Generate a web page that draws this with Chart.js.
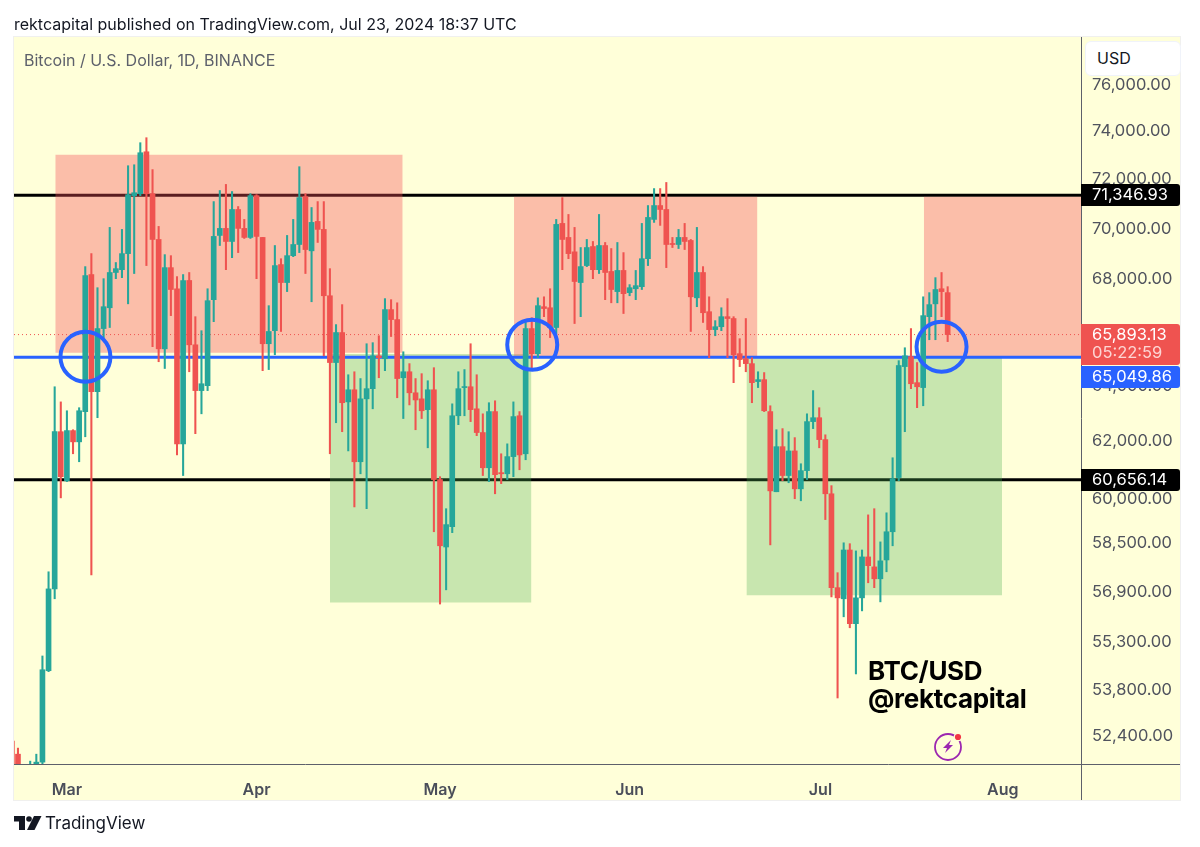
<!DOCTYPE html>
<html>
<head>
<meta charset="utf-8">
<title>BTC/USD</title>
<script src="https://cdn.jsdelivr.net/npm/chart.js@4/dist/chart.umd.js"></script>
<style>
    html, body { margin: 0; padding: 0; background: #fff; font-family: Inter, sans-serif; }
    #wrap { position: relative; width: 1200px; height: 847px; overflow: hidden; }
    canvas { position: absolute; left: 0; top: 0; }
    .txt { position: absolute; white-space: nowrap; }
    #header { left: 14px; top: 14px; font-size: 16px; color: #131722; }
    #symbol { left: 24px; top: 50px; font-size: 16px; color: #5d606b; }
    #sign { left: 868px; top: 657px; font-size: 26px; line-height: 28px; font-weight: 700; color: #000; letter-spacing: -0.3px; }
    #brand { left: 45px; top: 813px; font-size: 17px; color: #131722; }
    #usd { left: 1085px; top: 41px; width: 96px; height: 35px; box-sizing: border-box; padding: 6px 0 0 11px;
        background: #fff; border: 1px solid #f0f3fa; border-radius: 6px; font-size: 16px; color: #131722; }
    svg { position: absolute; }
</style>
</head>
<body>
<div id="wrap">
    <canvas id="chart" width="1200" height="847"></canvas>
    <div class="txt" id="header">rektcapital published on TradingView.com, Jul 23, 2024 18:37 UTC</div>
    <div class="txt" id="symbol">Bitcoin / U.S. Dollar, 1D, BINANCE</div>
    <div class="txt" id="sign">BTC/USD<br>@rektcapital</div>
    <div class="txt" id="brand">TradingView</div>
    <div class="txt" id="usd">USD</div>
    <svg style="left:14px;top:815px" width="28" height="16" viewBox="0 0 28 16">
        <path d="M0 1h11v14H5V6.5H0z" fill="#131722"/>
        <circle cx="15" cy="4" r="2.8" fill="#131722"/>
        <path d="M20 1h7.5L20.5 15H13z" fill="#131722"/>
    </svg>
    <svg style="left:933px;top:731px" width="30" height="30" viewBox="0 0 30 30">
        <circle cx="15" cy="16" r="13" fill="none" stroke="#9c27b0" stroke-width="1.8"/>
        <path d="M18 9l-8 8h4l-2 5 8-8h-4z" fill="#9c27b0"/>
        <circle cx="25" cy="6" r="4.4" fill="#fffed9"/>
        <circle cx="25" cy="6" r="3.1" fill="#f23645"/>
    </svg>
</div>
<script>
// daily candles, first one is Feb 21 2024 (day -7, day 0 is Feb 28)
const FIRST_DAY = -7;

const opens = [
    52250, 51860, 51300, 50750, 51520, 51625, 54390, 56990, 62340,
    60620, 62380, 61980, 63060, 68190, 63780, 66120, 66910, 68270, 68380, 69010, 71330, 71410, 73140, 71410, 69570, 65360, 68460, 67640, 61910, 67960, 65510, 63820, 64000, 67220, 69730, 70010, 69490, 70770, 70010, 69650,
    71330, 69650, 65550, 66040, 68580, 67880, 68930, 69370, 71290, 69120, 70290, 69970, 67370, 64850, 65970, 63410, 63850, 61280, 63520, 63890, 65100, 64990, 66840, 66460, 64290, 64510, 63740, 63520, 63130, 63850,
    60660, 58370, 59050, 62910, 63930, 63960, 63160, 62310, 61070, 63060, 60900, 60860, 61460, 62910, 61560, 66120, 65180, 66950, 66910, 66160, 70210, 69650, 69080, 67880, 68540, 69290, 68380, 69330, 68310, 67530, 68350,
    67490, 67640, 67720, 68810, 70370, 70930, 70770, 69410, 69370, 69650, 69530, 67290, 68270, 66760, 66080, 66190, 66570, 66500, 65180, 64990, 64810, 64150, 64220, 63060, 60240, 61810, 60800, 61660, 60340, 60970,
    62700, 62840, 62060, 60170, 57030, 56670, 58270, 55870, 56700, 58040, 57710, 57320, 57940, 58880, 60730, 64700, 65070, 64110, 63930, 66570, 67060, 67640, 67490
];
const highs = [
    52400, 52040, 51500, 51655, 51860, 54850, 57550, 63960, 63410,
    63090, 62410, 63200, 68500, 69010, 67680, 68030, 70050, 68660, 69970, 72560, 72600, 73520, 73730, 72400, 70090, 68970, 68930, 68110, 68190, 68270, 66570, 66040, 67640, 71090, 71540, 71790, 71500, 70890, 70370, 71410,
    71370, 69650, 66990, 69330, 68810, 69730, 70370, 72520, 71410, 70850, 71090, 71090, 68420, 66270, 67030, 64400, 64510, 64260, 65550, 65590, 65850, 67260, 67220, 67100, 65250, 64810, 64260, 64440, 64180, 64660,
    60760, 59660, 63340, 64510, 64590, 65550, 64400, 62980, 63380, 63450, 61560, 61910, 63410, 63060, 66350, 66530, 67290, 67330, 67640, 70370, 71250, 70570, 70050, 69250, 69570, 69490, 70570, 69450, 69210, 69450, 69050,
    67800, 68350, 70210, 70930, 71620, 71620, 71870, 69650, 69970, 70210, 69570, 70050, 68500, 67330, 66420, 66910, 67260, 66570, 65740, 66500, 65030, 64510, 64480, 63270, 62410, 62450, 62340, 62130, 61210, 62980,
    63820, 63200, 62230, 60450, 57520, 58510, 58480, 58240, 58270, 59450, 59660, 58540, 59520, 61420, 64920, 65400, 66120, 64850, 67330, 67490, 68070, 68270, 67720
];
const lows = [
    51200, 50900, 50400, 50600, 51200, 51570, 54360, 56670, 60030,
    60590, 61560, 61280, 62160, 57450, 62840, 65780, 66160, 68030, 68070, 67060, 68230, 71330, 68540, 65440, 64880, 64630, 66610, 61520, 60800, 64510, 62270, 62980, 63820, 66380, 69330, 68380, 68850, 69050, 69610, 69610,
    68030, 64550, 64590, 65140, 66010, 67530, 68890, 69050, 68230, 67140, 69450, 65100, 61560, 62660, 62340, 61660, 59720, 60860, 59660, 63160, 64290, 64550, 65820, 63560, 62810, 63300, 62410, 62810, 61770, 58880,
    56500, 56960, 58850, 62590, 62910, 62700, 62200, 60800, 60590, 60170, 60520, 60660, 60760, 61000, 61350, 64550, 65030, 66570, 65780, 65930, 68380, 68810, 66310, 66570, 68500, 68030, 68230, 67220, 67100, 67100, 66690,
    67370, 67220, 67610, 68540, 70250, 70130, 68460, 69250, 69210, 69170, 66010, 66950, 66350, 65030, 65850, 66040, 65030, 64110, 64700, 64510, 63380, 63930, 63060, 58440, 60240, 60620, 60550, 60000, 59930, 60660,
    62450, 61770, 59290, 56730, 53550, 56090, 55740, 54290, 56280, 57190, 57030, 56570, 57550, 58410, 60620, 62340, 63890, 63200, 63270, 65700, 65700, 66570, 65630
];
const closes = [
    51300, 51300, 50750, 51520, 51625, 54420, 56990, 62340, 60760,
    62380, 61980, 63090, 68150, 63780, 66120, 66950, 68270, 68420, 69010, 71370, 71450, 73100, 71410, 69570, 65360, 68460, 67610, 61910, 67960, 65510, 63820, 64070, 67180, 69690, 70010, 69490, 70770, 70010, 69650, 71330,
    69690, 65550, 66010, 68540, 67880, 68930, 69370, 71250, 69170, 70250, 69970, 67370, 64850, 65970, 63380, 63850, 61280, 63520, 63890, 65100, 65030, 66840, 66460, 64260, 64510, 63740, 63480, 63090, 63850, 60660,
    58410, 59120, 62910, 63890, 63960, 63130, 62310, 61070, 63060, 60830, 60860, 61460, 62880, 61520, 66120, 65180, 66990, 66880, 66160, 70170, 69570, 69010, 67920, 68500, 69250, 68380, 69330, 68270, 67610, 68350, 67450,
    67680, 67760, 68810, 70450, 70930, 70770, 69370, 69370, 69650, 69490, 67330, 68270, 66720, 66080, 66190, 66570, 66500, 65140, 64960, 64810, 64110, 64220, 63090, 60270, 61810, 60800, 61660, 60340, 60970, 62700,
    62840, 62060, 60170, 57030, 56700, 58270, 55870, 56700, 58040, 57750, 57320, 57910, 58880, 60690, 64740, 65100, 64070, 63960, 66610, 67030, 67610, 67530, 65893.13
];

// price axis labels and month labels (day position, text)
const priceTicks = [76000, 74000, 72000, 70000, 68000, 66000, 64000, 62000, 60000, 58500, 56900, 55300, 53800, 52400];
const monthDays = [2, 33, 63, 94, 125.2, 155];
const monthNames = ['Mar', 'Apr', 'May', 'Jun', 'Jul', 'Aug'];

// levels drawn on the chart
const resistance = 71346.93;
const midLevel = 65049.86;
const support = 60656.14;
const lastPrice = 65893.13;

// zones: [first day, last day, top price, bottom price]
const redZones = [
    [0.1, 56.9, 73020, 65210],
    [75.1, 114.9, 71290, 65030],
    [142.1, 167.8, 71290, 65030]
];
const greenZones = [
    [45, 77.95, 65165, 56546],
    [113.1, 154.9, 65030, 56787]
];

// blue circles, [day, price]
const circleDays = [5.03, 78.08, 145];
const circlePrices = [65066, 65514, 65438];

const X_MIN = -6.65;
const X_MAX = 167.8;
const Y_MIN = 51570;
const Y_MAX = 78092;

const GREEN = '#26a69a';
const RED = '#ef5350';
const BLUE = '#2962ff';
const AXIS = '#5d606b';

const days = opens.map((o, i) => i + FIRST_DAY);
const candleColors = opens.map((o, i) => closes[i] < o ? RED : GREEN);

function levelLine(value, color, width, dash, order) {
    return {
        type: 'line',
        data: [{ x: X_MIN, y: value }, { x: X_MAX, y: value }],
        borderColor: color,
        borderWidth: width,
        borderDash: dash,
        pointRadius: 0,
        fill: false,
        order: order
    };
}

function zone(z, color) {
    return {
        type: 'line',
        data: [{ x: z[0], y: z[2] }, { x: z[1], y: z[2] }],
        borderWidth: 0,
        pointRadius: 0,
        backgroundColor: color,
        fill: { value: z[3] },
        order: 6
    };
}

function priceText(v) {
    return v.toLocaleString('en-US', { minimumFractionDigits: 2, maximumFractionDigits: 2 });
}

// yellow panel behind the plot and axes
const panel = {
    id: 'panel',
    beforeDraw(chart) {
        const ctx = chart.ctx;
        ctx.save();
        ctx.fillStyle = '#ffffd9';
        ctx.fillRect(14, 37, 1166, 763);
        ctx.strokeStyle = '#f0f0ee';
        ctx.strokeRect(13.5, 36.5, 1167, 764);
        ctx.restore();
    },
    afterDraw(chart) {
        const ctx = chart.ctx;
        const area = chart.chartArea;
        ctx.save();
        ctx.strokeStyle = AXIS;
        ctx.lineWidth = 1;
        ctx.beginPath();
        ctx.moveTo(14, area.bottom + 0.5);
        ctx.lineTo(1180, area.bottom + 0.5);
        ctx.moveTo(area.right + 0.5, 37);
        ctx.lineTo(area.right + 0.5, 800);
        ctx.stroke();
        ctx.restore();
    }
};

// price tags on the right axis
const tags = {
    id: 'tags',
    afterDraw(chart) {
        const ctx = chart.ctx;
        const y = chart.scales.y;
        const tag = (top, h, color, lines) => {
            ctx.fillStyle = color;
            ctx.beginPath();
            ctx.roundRect(1081, top, 99, h, [0, 3, 3, 0]);
            ctx.fill();
            ctx.font = '16.5px Inter';
            ctx.textAlign = 'left';
            ctx.textBaseline = 'middle';
            lines.forEach((l) => {
                ctx.fillStyle = l.color;
                ctx.fillText(l.text, 1092, l.y);
            });
        };
        ctx.save();
        const r = Math.round(y.getPixelForValue(resistance));
        const s = Math.round(y.getPixelForValue(support));
        tag(r - 11, 22, '#000', [{ text: priceText(resistance), y: r + 0.5, color: '#fff' }]);
        tag(s - 11, 22, '#000', [{ text: priceText(support), y: s + 0.5, color: '#fff' }]);
        tag(324, 41, RED, [
            { text: priceText(lastPrice), y: 335, color: '#fff' },
            { text: '05:22:59', y: 353, color: '#fdd5d3' }
        ]);
        tag(366, 22, BLUE, [{ text: priceText(midLevel), y: 377, color: '#fff' }]);
        ctx.restore();
    }
};

const chart = new Chart(document.getElementById('chart').getContext('2d'), {
    type: 'bar',
    data: {
        datasets: [
            levelLine(resistance, '#000', 3, [], 7),
            levelLine(support, '#000', 3, [], 7),
            ...redZones.map((z) => zone(z, 'rgba(245, 80, 88, 0.37)')),
            ...greenZones.map((z) => zone(z, 'rgba(76, 175, 80, 0.31)')),
            levelLine(lastPrice, RED, 1, [1, 3], 5),
            levelLine(midLevel, BLUE, 3, [], 4),
            {
                // wicks
                type: 'bar',
                data: days.map((d, i) => ({ x: d, y: [lows[i], highs[i]] })),
                backgroundColor: candleColors,
                barThickness: 1.4,
                grouped: false,
                order: 3
            },
            {
                // bodies
                type: 'bar',
                data: days.map((d, i) => ({ x: d, y: [opens[i], closes[i]] })),
                backgroundColor: candleColors,
                barThickness: 5,
                minBarLength: 1,
                grouped: false,
                order: 2
            },
            {
                type: 'line',
                data: circleDays.map((d, i) => ({ x: d, y: circlePrices[i] })),
                showLine: false,
                pointRadius: 25,
                pointBorderWidth: 4,
                pointBorderColor: BLUE,
                pointBackgroundColor: 'rgba(0,0,0,0)',
                order: 1
            }
        ]
    },
    options: {
        responsive: false,
        animation: false,
        devicePixelRatio: 1,
        // the big circles would otherwise push the plot area in
        layout: { autoPadding: false, padding: { left: 14, top: 37, right: 20, bottom: 47 } },
        plugins: { legend: { display: false }, tooltip: { enabled: false } },
        scales: {
            x: {
                type: 'linear',
                offset: false,
                min: X_MIN,
                max: X_MAX,
                grid: { display: false },
                border: { display: false },
                afterBuildTicks(scale) {
                    scale.ticks = monthDays.map((d) => ({ value: d }));
                },
                afterFit(scale) {
                    scale.height = 36;
                    scale.paddingLeft = 0;
                    scale.paddingRight = 0;
                },
                ticks: {
                    autoSkip: false,
                    maxRotation: 0,
                    padding: 9,
                    color: '#4a4e5a',
                    font: { family: 'Inter', size: 16, weight: '600' },
                    callback(value) {
                        return monthNames[monthDays.indexOf(value)];
                    }
                }
            },
            y: {
                type: 'logarithmic',
                position: 'right',
                min: Y_MIN,
                max: Y_MAX,
                grid: { display: false, drawTicks: false },
                border: { display: false },
                afterBuildTicks(scale) {
                    scale.ticks = priceTicks.map((v) => ({ value: v }));
                },
                afterFit(scale) {
                    scale.width = 99;
                    scale.paddingTop = 0;
                    scale.paddingBottom = 0;
                },
                ticks: {
                    autoSkip: false,
                    padding: 11,
                    color: '#50535e',
                    font: { family: 'Inter', size: 16.5 },
                    callback(value) {
                        return priceText(value);
                    }
                }
            }
        }
    },
    plugins: [panel, tags]
});
</script>
</body>
</html>
